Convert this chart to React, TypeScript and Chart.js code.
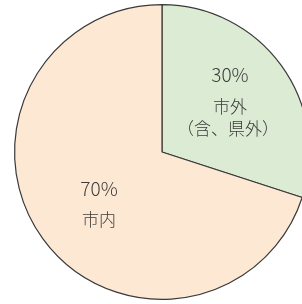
import React, { useEffect, useRef } from "react";
import { Chart, registerables } from "chart.js";

Chart.register(...registerables);

const categories = ["市外\n（含、県外）", "市内"];
const shares = [30, 70];
const percentLabels = ["30%", "70%"];
const sliceColors = ["#dcebd3", "#fde8d3"];
const labelNudgeX = [0, 5];
const labelNudgeY = [-1, 3];

const FONT = '"Noto Sans CJK JP", "Noto Sans", sans-serif';

const labelPlugin = {
  id: "sliceLabels",
  afterDatasetsDraw(chart: any) {
    const ctx = chart.ctx;
    const meta = chart.getDatasetMeta(0);
    ctx.save();
    ctx.fillStyle = "#3c3c3c";
    ctx.textAlign = "center";
    ctx.textBaseline = "middle";
    meta.data.forEach((arc: any, i: number) => {
      const p = arc.getProps(["x", "y", "startAngle", "endAngle", "outerRadius"], true);
      const mid = (p.startAngle + p.endAngle) / 2;
      const d = p.outerRadius * 0.57;
      const cx = p.x + Math.cos(mid) * d + labelNudgeX[i];
      const cy = p.y + Math.sin(mid) * d + labelNudgeY[i];
      const lines = categories[i].split("\n");
      const nameLines = lines.length;
      const gapPct = 31;
      const gapLine = 22;
      const total = gapPct + (nameLines - 1) * gapLine;
      let y = cy - total / 2;
      ctx.font = `300 19px ${FONT}`;
      ctx.fillText(percentLabels[i], cx, y);
      y += gapPct;
      ctx.font = `300 17px ${FONT}`;
      lines.forEach((ln, j) => {
        ctx.fillText(ln, cx - (j > 0 ? 2 : 0), y);
        y += gapLine;
      });
    });
    ctx.restore();
  },
};

export default function App() {
  const ref = useRef<HTMLCanvasElement | null>(null);
  useEffect(() => {
    if (!ref.current) return;
    const chart = new Chart(ref.current, {
      type: "pie",
      data: {
        labels: categories,
        datasets: [
          {
            data: shares,
            backgroundColor: sliceColors,
            borderColor: "#3a3a3a",
            borderWidth: 1.2,
          },
        ],
      },
      options: {
        responsive: false,
        animation: false,
        devicePixelRatio: 1,
        layout: { padding: 4 },
        plugins: {
          legend: { display: false },
          tooltip: { enabled: false },
        },
      },
      plugins: [labelPlugin],
    });
    return () => chart.destroy();
  }, []);
  return (
    <div
      style={{
        position: "fixed",
        left: 0,
        top: 0,
        width: 302,
        height: 304,
        overflow: "hidden",
        background: "#ffffff",
      }}
    >
      <canvas ref={ref} width={324} height={304} style={{ width: 324, height: 304, display: "block" }} />
    </div>
  );
}
